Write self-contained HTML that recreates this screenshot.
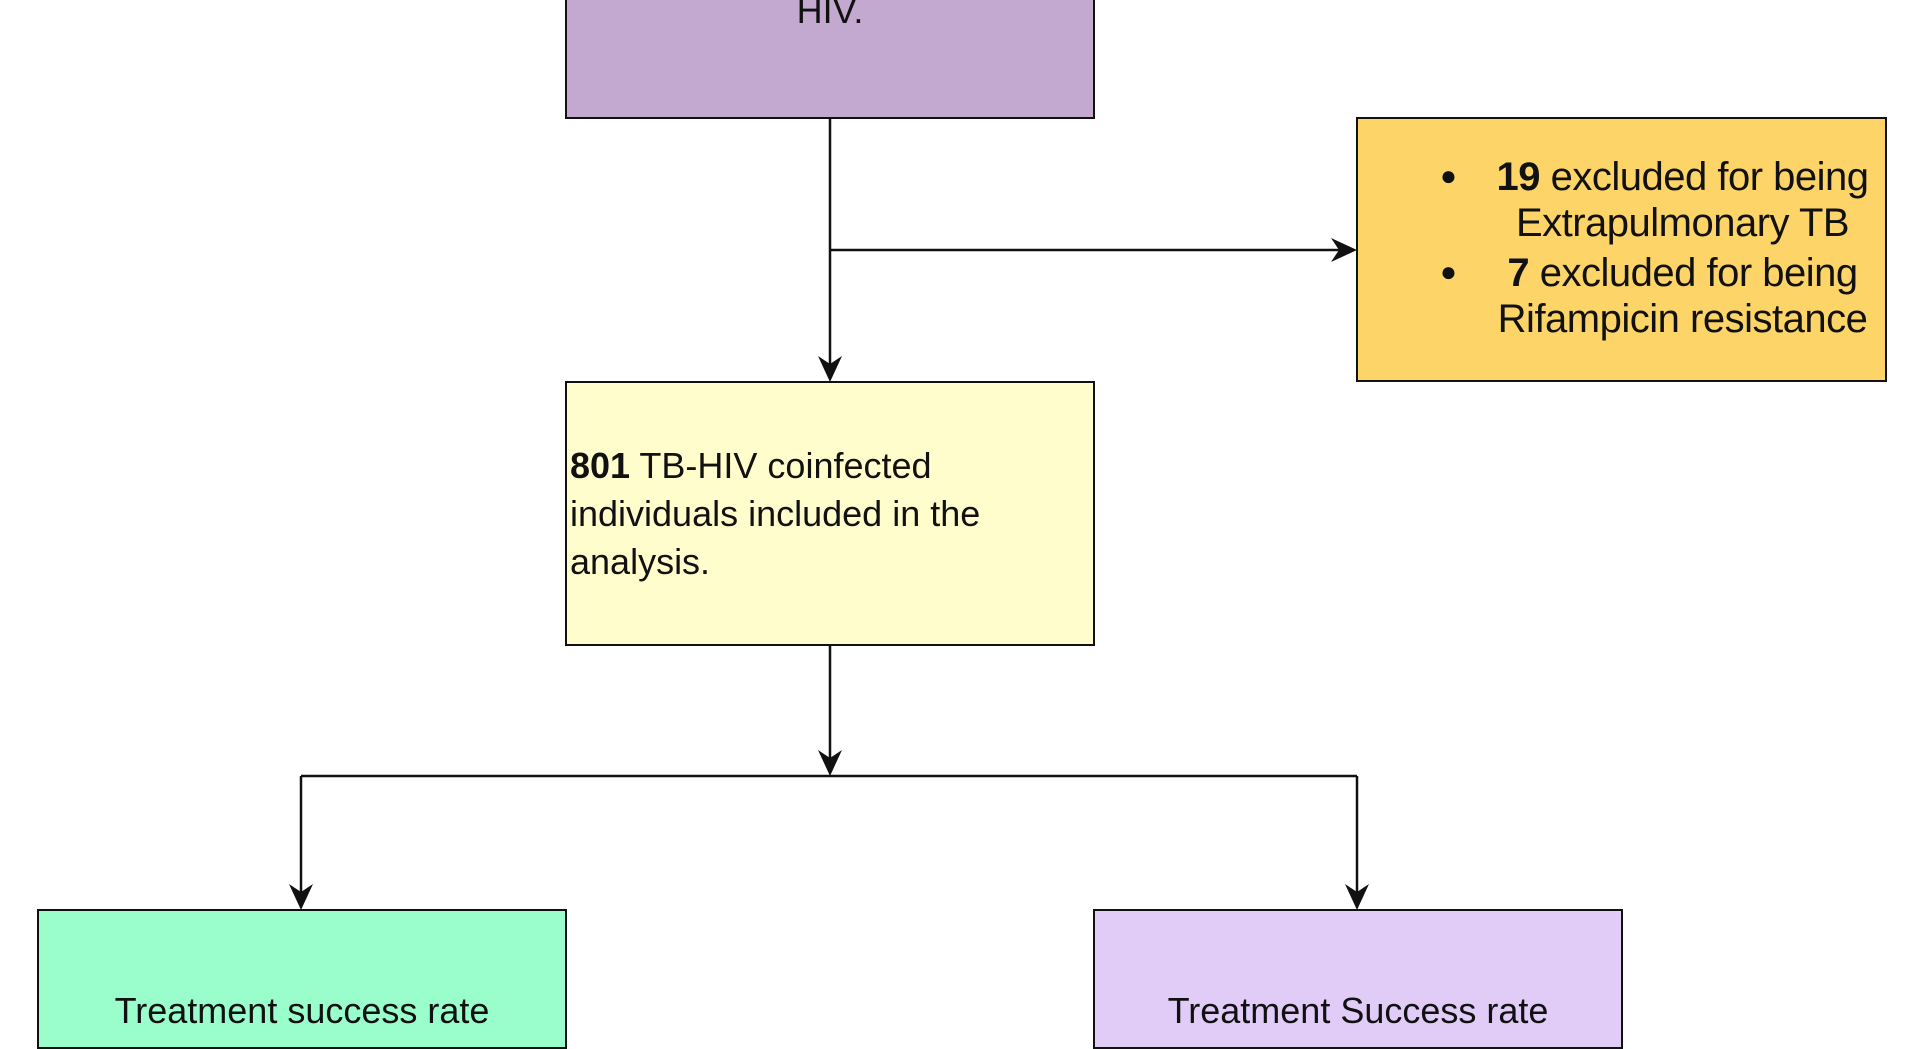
<!DOCTYPE html>
<html><head><style>
body{margin:0;width:1920px;height:1024px;background:#fff;position:relative;overflow:hidden;font-family:"Liberation Sans",Arial,sans-serif;color:#111}
.b{position:absolute;border:2px solid #111;box-sizing:border-box}
.t{position:absolute;font-size:36px;white-space:nowrap}
</style></head><body>
<div class="b" style="left:565px;top:-20px;width:530px;height:139px;background:#c3a8d0"></div>
<div class="t" style="left:565px;width:530px;text-align:center;top:-10px">HIV.</div>
<div class="b" style="left:1356px;top:117px;width:531px;height:265px;background:#fcd467"></div>
<div class="t" style="left:1440px;top:160px;font-size:28px">●</div>
<div class="t" style="left:1440px;top:256px;font-size:28px">●</div>
<div class="t" style="left:1480px;top:154px;width:405px;text-align:center;line-height:46px;font-size:40px;letter-spacing:-0.5px"><b>19</b> excluded for being<br>Extrapulmonary TB</div>
<div class="t" style="left:1480px;top:250px;width:405px;text-align:center;line-height:46px;font-size:40px;letter-spacing:-0.5px"><b>7</b> excluded for being<br>Rifampicin resistance</div>
<div class="b" style="left:565px;top:381px;width:530px;height:265px;background:#fffdcc"></div>
<div class="t" style="left:570px;top:442px;line-height:48px"><b>801</b> TB-HIV coinfected<br>individuals included in the<br>analysis.</div>
<div class="b" style="left:37px;top:909px;width:530px;height:140px;background:#99fdcc"></div>
<div class="t" style="left:37px;width:530px;text-align:center;top:990px">Treatment success rate</div>
<div class="b" style="left:1093px;top:909px;width:530px;height:140px;background:#e1ccf8"></div>
<div class="t" style="left:1093px;width:530px;text-align:center;top:990px">Treatment Success rate</div>
<svg width="1920" height="1024" style="position:absolute;left:0;top:0">
<g stroke="#111" stroke-width="2.5" fill="none">
<path d="M830 118V370M830 250H1345M830 645V764M301 776H1357M301 776V898M1357 776V898"/>
</g>
<g fill="#111">
<path d="M830 382l-12-26 12 8 12-8z"/>
<path d="M1357 250l-26-12 8 12-8 12z"/>
<path d="M830 776l-12-26 12 8 12-8z"/>
<path d="M301 910l-12-26 12 8 12-8z"/>
<path d="M1357 910l-12-26 12 8 12-8z"/>
</g>
</svg>
</body></html>
